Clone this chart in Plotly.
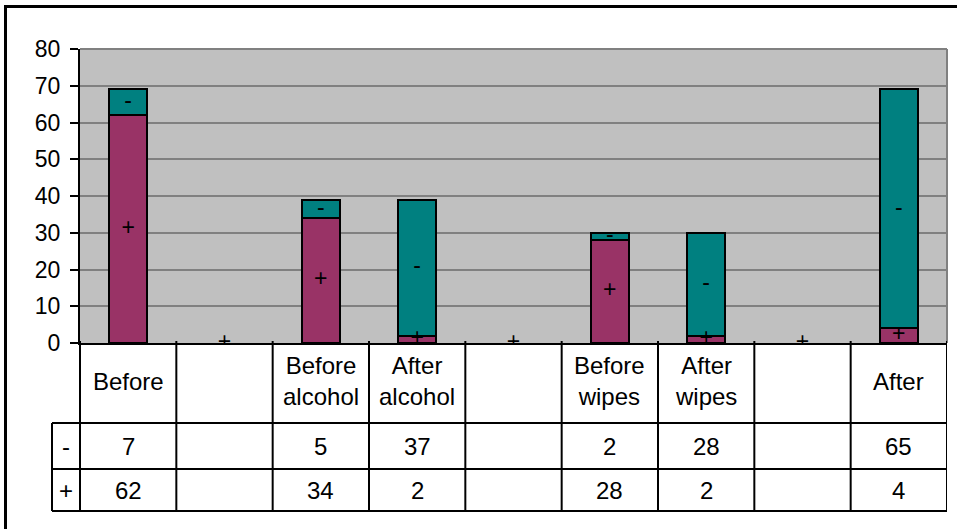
import plotly.graph_objects as go

# Stacked column chart with an attached data table
categories = ["Before", "", "Before<br>alcohol", "After<br>alcohol", "",
              "Before<br>wipes", "After<br>wipes", "", "After"]
plus_values = [62, 0, 34, 2, 0, 28, 2, 0, 4]
minus_values = [7, 0, 5, 37, 0, 2, 28, 0, 65]
plus_table = ["62", "", "34", "2", "", "28", "2", "", "4"]
minus_table = ["7", "", "5", "37", "", "2", "28", "", "65"]
y_ticks = [0, 10, 20, 30, 40, 50, 60, 70, 80]

PLUS_COLOR = "#993366"
MINUS_COLOR = "#008080"
FONT = "Liberation Sans, Arial, sans-serif"

W, H = 957, 529
L, R, T, B = 80, 10, 49, 186
PW, PH = W - L - R, H - T - B


def px_x(px):
    return (px - L) / PW


def px_y(py):
    return (H - B - py) / PH


n = len(categories)
xs = list(range(n))

# zero-height segments are left empty
plus_bars = [v if v else None for v in plus_values]
minus_bars = [v if v else None for v in minus_values]

fig = go.Figure()
fig.add_trace(go.Bar(x=xs, y=plus_bars, name="+", width=0.4,
                     marker=dict(color=PLUS_COLOR, line=dict(color="black", width=2))))
fig.add_trace(go.Bar(x=xs, y=minus_bars, name="-", width=0.4,
                     marker=dict(color=MINUS_COLOR, line=dict(color="black", width=2))))

# series labels centred in each segment
plus_mid = [v / 2 for v in plus_values]
minus_x = [i for i in xs if minus_values[i]]
minus_mid = [plus_values[i] + minus_values[i] / 2 for i in minus_x]
lab_font = dict(size=23, color="black", family=FONT)
fig.add_trace(go.Scatter(x=minus_x, y=minus_mid, mode="text", text=["-"] * len(minus_x),
                         textfont=lab_font, hoverinfo="skip"))
fig.add_trace(go.Scatter(x=xs, y=plus_mid, mode="text", text=["+"] * n,
                         textfont=lab_font, hoverinfo="skip"))

shapes = []
# plot area frame (top/right) in grey
shapes.append(dict(type="line", xref="paper", yref="paper", x0=0, x1=1, y0=1, y1=1,
                   line=dict(color="#808080", width=2)))
shapes.append(dict(type="line", xref="paper", yref="paper", x0=1, x1=1, y0=0, y1=1,
                   line=dict(color="#808080", width=2)))

# data table grid
row1, row2, row3 = px_y(423), px_y(469), px_y(511)
legend_left = px_x(52)
for i in range(n + 1):
    shapes.append(dict(type="line", xref="x", yref="paper", x0=i - 0.5, x1=i - 0.5,
                       y0=row3, y1=px_y(341), line=dict(color="black", width=2)))
shapes.append(dict(type="line", xref="paper", yref="paper", x0=0, x1=0,
                   y0=row3, y1=0, line=dict(color="black", width=2)))
for yy in (row1, row2, row3):
    shapes.append(dict(type="line", xref="paper", yref="paper", x0=legend_left, x1=1,
                       y0=yy, y1=yy, line=dict(color="black", width=2)))
shapes.append(dict(type="line", xref="paper", yref="paper", x0=legend_left, x1=legend_left,
                   y0=row3, y1=row1, line=dict(color="black", width=2)))

# outer chart border
shapes.append(dict(type="rect", xref="paper", yref="paper",
                   x0=px_x(5.5), x1=px_x(975), y0=px_y(545), y1=px_y(6.5),
                   line=dict(color="black", width=3), fillcolor="rgba(0,0,0,0)"))

annotations = []
tfont = dict(size=24, color="black", family=FONT)
mid_cat = px_y(381)
mid_minus = (row1 + row2) / 2
mid_plus = (row2 + row3) / 2
for i in range(n):
    if categories[i]:
        annotations.append(dict(x=i, y=mid_cat, xref="x", yref="paper", text=categories[i],
                                showarrow=False, font=tfont, xanchor="center",
                                yanchor="middle"))
    if minus_table[i]:
        annotations.append(dict(x=i, y=mid_minus, xref="x", yref="paper", text=minus_table[i],
                                showarrow=False, font=tfont, xanchor="center", yanchor="middle"))
    if plus_table[i]:
        annotations.append(dict(x=i, y=mid_plus, xref="x", yref="paper", text=plus_table[i],
                                showarrow=False, font=tfont, xanchor="center", yanchor="middle"))
legend_mid = (legend_left + 0) / 2
annotations.append(dict(x=legend_mid, y=mid_minus, xref="paper", yref="paper", text="-",
                        showarrow=False, font=tfont, xanchor="center", yanchor="middle"))
annotations.append(dict(x=legend_mid, y=mid_plus, xref="paper", yref="paper", text="+",
                        showarrow=False, font=tfont, xanchor="center", yanchor="middle"))

fig.update_layout(
    width=W, height=H,
    margin=dict(l=L, r=R, t=T, b=B),
    barmode="stack",
    showlegend=False,
    paper_bgcolor="white",
    plot_bgcolor="#C0C0C0",
    font=dict(family=FONT, color="black"),
    shapes=shapes,
    annotations=annotations,
    xaxis=dict(range=[-0.5, n - 0.5], showticklabels=False, showgrid=False,
               zeroline=False, showline=True, linecolor="black", linewidth=2,
               ticks=""),
    yaxis=dict(range=[0, 80], tickvals=y_ticks, showgrid=True, gridcolor="#808080",
               gridwidth=2, zeroline=False, showline=True, linecolor="black",
               linewidth=2, ticks="outside", ticklen=8, tickwidth=2, tickcolor="black",
               tickfont=dict(size=23, family=FONT, color="black"),
               ticklabelstandoff=5),
)

fig.write_html("out.html")
